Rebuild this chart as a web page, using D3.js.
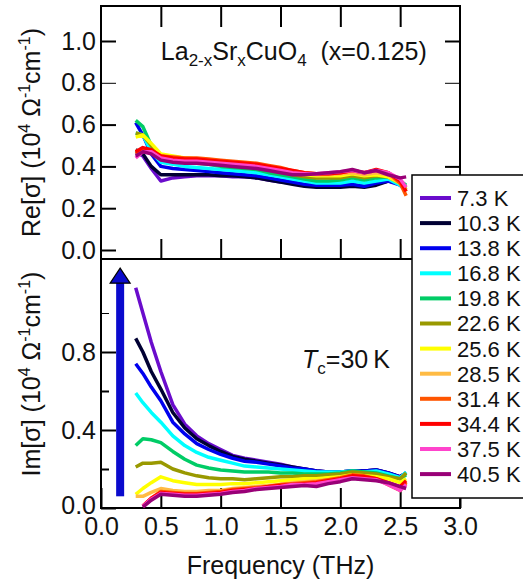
<!DOCTYPE html>
<html>
<head>
<meta charset="utf-8">
<script src="https://cdn.jsdelivr.net/npm/d3@7"></script>
<style>
  html, body { margin: 0; padding: 0; background: #fff; }
  svg { display: block; font-family: "Liberation Sans", Arial, sans-serif; }
</style>
</head>
<body>
<svg id="chart" width="523" height="582"></svg>
<script>
// Frequency grid (THz)
const freq = [0.29,0.35,0.42,0.5,0.6,0.7,0.8,0.9,1.0,1.1,1.2,1.3,1.4,1.5,1.6,1.7,1.8,1.9,2.0,2.1,2.2,2.3,2.4,2.5,2.55];

// Temperatures and line colours
const temps = ["7.3 K","10.3 K","13.8 K","16.8 K","19.8 K","22.6 K","25.6 K","28.5 K","31.4 K","34.4 K","37.5 K","40.5 K"];
const colors = ["#6a0ccc","#000033","#0000ee","#00ffff","#00cc66","#999900","#ffff00","#ffbb44","#ff5500","#ff0000","#ff44cc","#990077"];

// Re[sigma] (10^4 Ohm^-1 cm^-1), one array per temperature
const re7_3  = [0.47,0.45,0.39,0.33,0.345,0.35,0.355,0.355,0.355,0.35,0.35,0.345,0.335,0.325,0.32,0.31,0.305,0.30,0.305,0.31,0.305,0.315,0.33,0.32,0.29];
const re10_3 = [0.48,0.46,0.40,0.36,0.36,0.36,0.36,0.36,0.355,0.355,0.35,0.345,0.335,0.325,0.315,0.305,0.30,0.30,0.30,0.305,0.30,0.31,0.33,0.32,0.30];
const re13_8 = [0.61,0.55,0.46,0.40,0.39,0.385,0.38,0.375,0.37,0.365,0.36,0.355,0.345,0.335,0.325,0.315,0.31,0.31,0.31,0.315,0.305,0.32,0.33,0.31,0.29];
const re16_8 = [0.56,0.55,0.47,0.42,0.41,0.40,0.395,0.39,0.385,0.38,0.375,0.37,0.36,0.35,0.34,0.33,0.32,0.32,0.32,0.33,0.32,0.33,0.34,0.31,0.28];
const re19_8 = [0.62,0.59,0.50,0.44,0.43,0.42,0.415,0.41,0.40,0.395,0.39,0.385,0.37,0.36,0.35,0.34,0.33,0.33,0.335,0.345,0.335,0.345,0.35,0.33,0.31];
const re22_6 = [0.56,0.55,0.50,0.45,0.44,0.43,0.425,0.42,0.41,0.405,0.40,0.395,0.385,0.375,0.36,0.35,0.345,0.345,0.345,0.355,0.345,0.355,0.35,0.32,0.30];
const re25_6 = [0.54,0.55,0.51,0.46,0.45,0.44,0.435,0.43,0.425,0.42,0.41,0.405,0.395,0.385,0.37,0.36,0.355,0.355,0.355,0.365,0.355,0.36,0.35,0.32,0.29];
const re28_5 = [0.47,0.48,0.47,0.45,0.445,0.44,0.435,0.43,0.425,0.42,0.415,0.41,0.40,0.39,0.375,0.365,0.36,0.36,0.365,0.37,0.36,0.37,0.36,0.32,0.28];
const re31_4 = [0.46,0.48,0.47,0.45,0.445,0.44,0.44,0.435,0.43,0.425,0.42,0.415,0.405,0.395,0.38,0.37,0.365,0.365,0.37,0.38,0.37,0.38,0.37,0.32,0.26];
const re34_4 = [0.47,0.49,0.48,0.45,0.44,0.435,0.435,0.43,0.425,0.42,0.415,0.41,0.40,0.39,0.38,0.37,0.365,0.365,0.37,0.38,0.37,0.385,0.37,0.33,0.28];
const re37_5 = [0.44,0.47,0.47,0.44,0.43,0.425,0.425,0.42,0.415,0.41,0.405,0.40,0.39,0.38,0.37,0.365,0.365,0.37,0.375,0.38,0.37,0.38,0.37,0.34,0.30];
const re40_5 = [0.45,0.47,0.46,0.43,0.42,0.415,0.415,0.41,0.405,0.40,0.395,0.39,0.38,0.37,0.36,0.36,0.365,0.37,0.375,0.385,0.37,0.38,0.36,0.345,0.35];

// Im[sigma] (10^4 Ohm^-1 cm^-1); null where a sweep starts later
const im7_3  = [1.13,1.00,0.85,0.70,0.53,0.43,0.37,0.33,0.30,0.27,0.255,0.245,0.235,0.225,0.21,0.20,0.19,0.185,0.185,0.19,0.19,0.195,0.18,0.16,0.18];
const im10_3 = [0.87,0.80,0.70,0.61,0.49,0.41,0.355,0.32,0.29,0.265,0.25,0.24,0.23,0.22,0.21,0.20,0.19,0.185,0.185,0.19,0.19,0.195,0.18,0.16,0.18];
const im13_8 = [0.74,0.69,0.62,0.55,0.44,0.38,0.33,0.30,0.275,0.255,0.24,0.235,0.225,0.215,0.205,0.20,0.19,0.185,0.185,0.19,0.19,0.195,0.18,0.16,0.18];
const im16_8 = [0.59,0.54,0.49,0.44,0.37,0.32,0.285,0.26,0.245,0.23,0.215,0.21,0.205,0.20,0.195,0.19,0.185,0.185,0.185,0.19,0.185,0.19,0.175,0.155,0.185];
const im19_8 = [0.32,0.355,0.35,0.335,0.29,0.25,0.22,0.205,0.195,0.19,0.185,0.185,0.185,0.18,0.18,0.175,0.175,0.175,0.18,0.19,0.185,0.18,0.165,0.15,0.17];
const im22_6 = [0.21,0.23,0.23,0.235,0.20,0.18,0.165,0.155,0.15,0.15,0.145,0.15,0.155,0.16,0.16,0.165,0.165,0.17,0.175,0.185,0.18,0.175,0.16,0.15,0.18];
const im25_6 = [0.07,0.10,0.13,0.16,0.14,0.13,0.12,0.12,0.12,0.125,0.125,0.13,0.135,0.14,0.145,0.15,0.15,0.155,0.16,0.17,0.165,0.16,0.15,0.13,0.15];
const im28_5 = [0.06,0.06,0.08,0.10,0.09,0.085,0.085,0.09,0.09,0.10,0.105,0.11,0.115,0.12,0.13,0.135,0.14,0.145,0.15,0.165,0.16,0.15,0.13,0.10,0.12];
const im31_4 = [null,0.01,0.05,0.085,0.08,0.075,0.075,0.08,0.085,0.095,0.10,0.105,0.11,0.12,0.125,0.13,0.135,0.145,0.155,0.17,0.165,0.15,0.12,0.09,0.13];
const im34_4 = [null,0.01,0.05,0.08,0.075,0.07,0.07,0.075,0.08,0.09,0.095,0.10,0.11,0.115,0.12,0.125,0.13,0.14,0.15,0.165,0.16,0.15,0.13,0.11,0.14];
const im37_5 = [null,0.01,0.045,0.075,0.07,0.065,0.065,0.07,0.075,0.085,0.09,0.10,0.105,0.11,0.12,0.12,0.125,0.135,0.145,0.155,0.15,0.145,0.12,0.09,0.12];
const im40_5 = [null,0.005,0.04,0.07,0.065,0.06,0.06,0.065,0.07,0.08,0.085,0.095,0.10,0.105,0.11,0.115,0.11,0.125,0.135,0.15,0.145,0.14,0.13,0.11,0.10];

const reSeries = [re7_3,re10_3,re13_8,re16_8,re19_8,re22_6,re25_6,re28_5,re31_4,re34_4,re37_5,re40_5];
const imSeries = [im7_3,im10_3,im13_8,im16_8,im19_8,im22_6,im25_6,im28_5,im31_4,im34_4,im37_5,im40_5];

// Tick values
const xTicks = [0, 0.5, 1.0, 1.5, 2.0, 2.5, 3.0];
const reTicks = [0, 0.2, 0.4, 0.6, 0.8, 1.0];
const imMajor = [0, 0.4, 0.8];
const imMinor = [0.2, 0.6, 1.0];

// ---- layout ----
const svg = d3.select("#chart");
const L = 101, R = 460;
const topY0 = 6, midY = 259, botY1 = 508;
const FS = 25;

const x = d3.scaleLinear().domain([0, 3]).range([L, R]);
const yRe = d3.scaleLinear().domain([0, 1]).range([250, 41]);
const yIm = d3.scaleLinear().domain([0, 1]).range([botY1, 313]);

const fmt = d3.format(".1f");

function styleAxis(g, w) {
  g.select(".domain").remove();
  g.selectAll(".tick line").attr("stroke", "#000").attr("stroke-width", w || 2);
  g.selectAll(".tick text").attr("font-size", FS).attr("fill", "#111")
    .attr("font-family", "'Liberation Sans', Arial, sans-serif");
}

// ---- upper panel: Re ----
const gTop = svg.append("g");
gTop.append("g").attr("transform", `translate(${L},0)`)
  .call(d3.axisLeft(yRe).tickValues(reTicks).tickFormat(fmt).tickSizeInner(-15).tickSizeOuter(0).tickPadding(5))
  .call(g => styleAxis(g));
gTop.append("g").attr("transform", `translate(${R},0)`)
  .call(d3.axisRight(yRe).tickValues(reTicks).tickFormat("").tickSizeInner(-15).tickSizeOuter(0))
  .call(g => styleAxis(g));
gTop.append("g").attr("transform", `translate(0,${midY})`)
  .call(d3.axisBottom(x).tickValues(xTicks.slice(1, 6)).tickFormat("").tickSizeInner(-20).tickSizeOuter(0))
  .call(g => styleAxis(g));
gTop.append("g").attr("transform", `translate(0,${topY0})`)
  .call(d3.axisTop(x).tickValues(xTicks.slice(1, 6)).tickFormat("").tickSizeInner(-21).tickSizeOuter(0))
  .call(g => styleAxis(g));
// thin 0.8 ticks
gTop.selectAll(".tick").filter(d => Math.abs(d - 0.8) < 1e-9).select("line").attr("stroke-width", 1);

// ---- lower panel: Im ----
const gBot = svg.append("g");
gBot.append("g").attr("transform", `translate(${L},0)`)
  .call(d3.axisLeft(yIm).tickValues(imMajor).tickFormat(fmt).tickSizeInner(-15).tickSizeOuter(0).tickPadding(5))
  .call(g => styleAxis(g))
  .call(g => g.selectAll(".tick text").filter(d => d === 0).attr("dy", "0.2em"));
gBot.append("g").attr("transform", `translate(${L},0)`)
  .call(d3.axisLeft(yIm).tickValues(imMinor).tickFormat("").tickSizeInner(-8).tickSizeOuter(0))
  .call(g => styleAxis(g));
gBot.selectAll(".tick").filter(d => Math.abs(d - 1.0) < 1e-9).select("line").attr("stroke-width", 1);
gBot.append("g").attr("transform", `translate(0,${botY1})`)
  .call(d3.axisBottom(x).tickValues(xTicks).tickFormat(fmt).tickSizeInner(-20).tickSizeOuter(0).tickPadding(9))
  .call(g => styleAxis(g));

// frames
svg.append("rect").attr("x", L).attr("y", topY0).attr("width", R - L).attr("height", midY - topY0)
  .attr("fill", "none").attr("stroke", "#000").attr("stroke-width", 2);
svg.append("rect").attr("x", L).attr("y", midY).attr("width", R - L).attr("height", botY1 - midY)
  .attr("fill", "none").attr("stroke", "#000").attr("stroke-width", 2);

// ---- curves ----
function drawCurves(series, y) {
  const line = d3.line().defined(d => d[1] !== null).x(d => x(d[0])).y(d => y(d[1]));
  series.forEach((vals, i) => {
    svg.append("path")
      .datum(freq.map((f, k) => [f, vals[k]]))
      .attr("d", line)
      .attr("fill", "none")
      .attr("stroke", colors[i])
      .attr("stroke-width", 3.5)
      .attr("stroke-linejoin", "round");
  });
}
drawCurves(reSeries, yRe);
drawCurves(imSeries, yIm);

// ---- arrow (increasing superfluid weight with cooling) ----
const ax = x(0.16);
const aTop = yIm(1.23), aBot = yIm(0.06), headH = 15;
svg.append("rect").attr("x", ax - 4).attr("y", aTop + headH - 1).attr("width", 8).attr("height", aBot - aTop - headH + 1)
  .attr("fill", "#0a0acd");
svg.append("path")
  .attr("d", `M${ax - 10},${aTop + headH} L${ax + 10},${aTop + headH} L${ax},${aTop} Z`)
  .attr("fill", "#0a0acd").attr("stroke", "#000").attr("stroke-width", 1.2).attr("stroke-linejoin", "miter");

// ---- texts ----
const title = svg.append("text").attr("x", x(0.5)).attr("y", yRe(0.91)).attr("font-size", FS).attr("fill", "#111");
title.append("tspan").text("La");
title.append("tspan").attr("font-size", 17).attr("dy", 6).text("2-x");
title.append("tspan").attr("dy", -6).text("Sr");
title.append("tspan").attr("font-size", 17).attr("dy", 6).text("x");
title.append("tspan").attr("dy", -6).text("CuO");
title.append("tspan").attr("font-size", 17).attr("dy", 6).text("4");
title.append("tspan").attr("dy", -6).attr("xml:space", "preserve").text("\u00a0 (x=0.125)");

const tc = svg.append("text").attr("x", x(1.68)).attr("y", yIm(0.72)).attr("font-size", FS).attr("fill", "#111");
tc.append("tspan").attr("font-style", "italic").text("T");
tc.append("tspan").attr("font-size", 17).attr("dy", 6).text("c");
tc.append("tspan").attr("dy", -6).text("=30\u2009K");

function yTitle(cx, cy, lead) {
  const t = svg.append("text").attr("transform", `translate(${cx},${cy}) rotate(-90)`)
    .attr("text-anchor", "middle").attr("font-size", FS).attr("fill", "#111");
  t.append("tspan").text(lead + " (10");
  t.append("tspan").attr("font-size", 16).attr("dy", -10).text("4");
  t.append("tspan").attr("dy", 10).text(" \u03a9");
  t.append("tspan").attr("font-size", 16).attr("dy", -10).text("-1");
  t.append("tspan").attr("dy", 10).text("cm");
  t.append("tspan").attr("font-size", 16).attr("dy", -10).text("-1");
  t.append("tspan").attr("dy", 10).text(")");
}
yTitle(40, (topY0 + midY) / 2, "Re[\u03c3]");
yTitle(40, 374, "Im[\u03c3]");

svg.append("text").attr("x", (L + R) / 2).attr("y", 574).attr("text-anchor", "middle")
  .attr("font-size", FS).attr("fill", "#111").text("Frequency (THz)");

// ---- legend ----
const lg = svg.append("g");
lg.append("rect").attr("x", 412).attr("y", 175).attr("width", 140).attr("height", 323)
  .attr("fill", "#fff").attr("stroke", "#000").attr("stroke-width", 1.5);
temps.forEach((t, i) => {
  const yy = 198 + i * 25.1;
  lg.append("line").attr("x1", 420).attr("x2", 451).attr("y1", yy).attr("y2", yy)
    .attr("stroke", colors[i]).attr("stroke-width", 4);
  lg.append("text").attr("x", 457).attr("y", yy).attr("dy", "0.36em")
    .attr("font-size", 22).attr("fill", "#111").text(t);
});
</script>
</body>
</html>
